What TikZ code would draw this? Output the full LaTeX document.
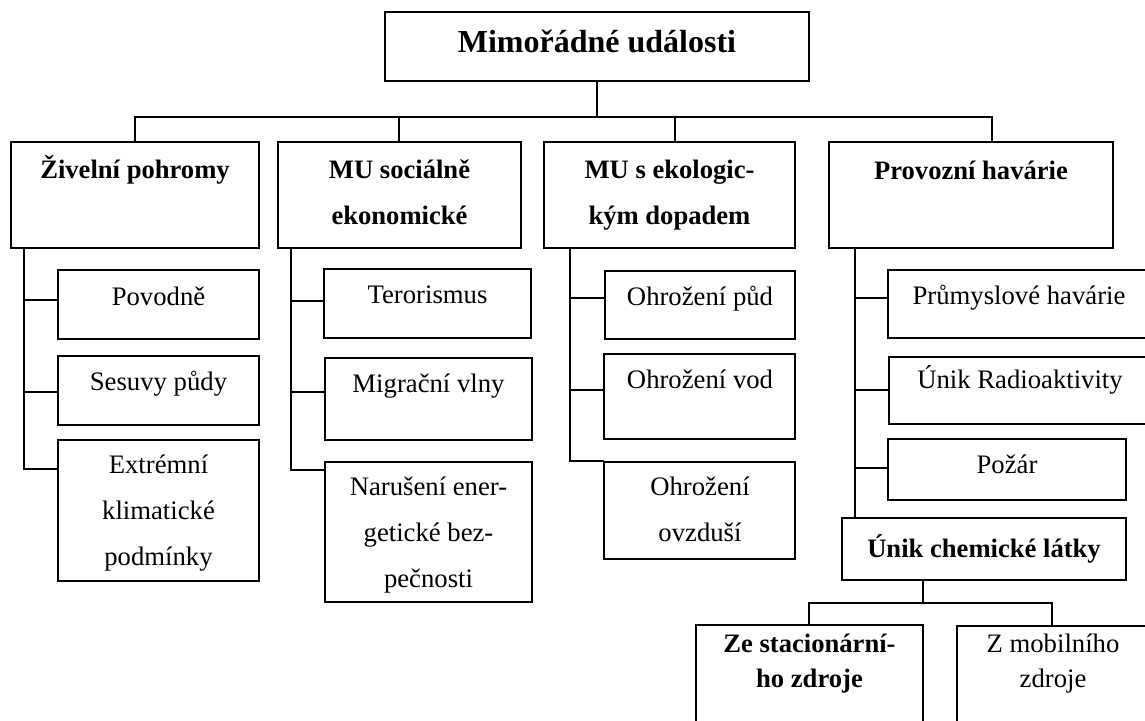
\documentclass[tikz,border=0pt]{standalone}
\usepackage{fontspec}
\setmainfont{Liberation Serif}
\usetikzlibrary{fit}
\newcommand\tx[5]{\node[#1] (#2) at (#3,#4-28) {\rule{0pt}{14pt}#5};}
\newcommand\bxnode[5]{\node[bx, fit={(#2,#3) (#4,#5)}] (#1) {};}
\begin{document}
\begin{tikzpicture}[x=0.5pt,y=-0.5pt,
  bx/.style={draw, line width=0.8pt, inner sep=0pt, outer sep=0pt},
  ln/.style={line width=0.8pt},
  tn/.style={font=\fontsize{13.35}{23}\selectfont, align=center, inner sep=0pt, anchor=north},
  tb/.style={tn, font=\bfseries\fontsize{13.3}{23}\selectfont},
  tt/.style={tn, font=\bfseries\fontsize{16}{23}\selectfont},
  tns/.style={tn, font=\fontsize{13.35}{17.5}\selectfont},
  tbs/.style={tn, font=\bfseries\fontsize{13.3}{17.5}\selectfont}]
\useasboundingbox (0,0) rectangle (1145,720);
% boxes
\bxnode{top}{385}{12}{809}{81}
\bxnode{l1a}{11}{142}{259}{248}
\bxnode{l1b}{278}{142}{521}{248}
\bxnode{l1c}{544}{142}{795}{248}
\bxnode{l1d}{829}{142}{1113}{248}
\bxnode{c1a}{58}{270}{259}{339}
\bxnode{c1b}{58}{356}{259}{425}
\bxnode{c1c}{58}{440}{259}{581}
\bxnode{c2a}{324}{269}{531}{338}
\bxnode{c2b}{325}{358}{532}{440}
\bxnode{c2c}{325}{462}{532}{602}
\bxnode{c3a}{605}{271}{795}{339}
\bxnode{c3b}{604}{354}{795}{439}
\bxnode{c3c}{604}{462}{795}{559}
\bxnode{c4a}{888}{270}{1152}{338}
\bxnode{c4b}{889}{357}{1152}{424}
\bxnode{c4c}{888}{439}{1126}{500}
\bxnode{chem}{842}{518}{1126}{580}
\bxnode{ze}{696}{625}{923}{730}
\bxnode{mob}{957}{626}{1152}{730}
% texts
\tx{tt}{ttop}{597}{52}{Mimořádné události}
\tx{tb}{tl1a}{135}{178}{Živelní pohromy}
\tx{tb}{tl1b}{399.5}{178}{MU sociálně\\ekonomické}
\tx{tb}{tl1c}{669.5}{178}{MU s ekologic-\\kým dopadem}
\tx{tb}{tl1d}{971}{179}{Provozní havárie}
\tx{tn}{tc1a}{158.5}{305}{Povodně}
\tx{tn}{tc1b}{158.5}{390}{Sesuvy půdy}
\tx{tn}{tc1c}{158.5}{473}{Extrémní\\klimatické\\podmínky}
\tx{tn}{tc2a}{427.5}{303}{Terorismus}
\tx{tn}{tc2b}{428.5}{392}{Migrační vlny}
\tx{tn}{tc2c}{428.5}{495}{Narušení ener-\\getické bez-\\pečnosti}
\tx{tn}{tc3a}{700}{305}{Ohrožení půd}
\tx{tn}{tc3b}{700}{388}{Ohrožení vod}
\tx{tn}{tc3c}{700}{495}{Ohrožení\\ovzduší}
\tx{tn}{tc4a}{1019}{304}{Průmyslové havárie}
\tx{tn}{tc4b}{1020}{388}{Únik Radioaktivity}
\tx{tn}{tc4c}{1007}{473}{Požár}
\tx{tb}{tchem}{984}{557}{Únik chemické látky}
\tx{tbs}{tze}{809.5}{652}{Ze stacionární-\\ho zdroje}
\tx{tns}{tmob}{1053}{652}{Z mobilního\\zdroje}
% main bus
\coordinate (busL) at (135,117);
\coordinate (busR) at (992,117);
\coordinate (d2) at (399,117);
\coordinate (d3) at (675,117);
\draw[ln] (top.south) -- (top.south |- busL);
\draw[ln] (busL |- l1a.north) -- (busL) -- (busR) -- (busR |- l1d.north);
\draw[ln] (d2) -- (d2 |- l1b.north);
\draw[ln] (d3) -- (d3 |- l1c.north);
% column 1
\coordinate (j1a) at (24,300);
\coordinate (j1b) at (24,392);
\coordinate (j1c) at (24,469);
\draw[ln] (l1a.south -| j1a) -- (j1c) -- (j1c -| c1c.west);
\draw[ln] (j1a) -- (j1a -| c1a.west);
\draw[ln] (j1b) -- (j1b -| c1b.west);
% column 2
\coordinate (j2a) at (291,301);
\coordinate (j2b) at (291,392);
\coordinate (j2c) at (291,470);
\draw[ln] (l1b.south -| j2a) -- (j2c) -- (j2c -| c2c.west);
\draw[ln] (j2a) -- (j2a -| c2a.west);
\draw[ln] (j2b) -- (j2b -| c2b.west);
% column 3
\coordinate (j3a) at (570,298);
\coordinate (j3b) at (570,390);
\coordinate (j3c) at (570,461);
\draw[ln] (l1c.south -| j3a) -- (j3c) -- (j3c -| c3c.west);
\draw[ln] (j3a) -- (j3a -| c3a.west);
\draw[ln] (j3b) -- (j3b -| c3b.west);
% column 4
\coordinate (j4a) at (855,298);
\coordinate (j4b) at (855,390);
\coordinate (j4c) at (855,468);
\draw[ln] (l1d.south -| j4a) -- (j4a |- chem.north);
\draw[ln] (j4a) -- (j4a -| c4a.west);
\draw[ln] (j4b) -- (j4b -| c4b.west);
\draw[ln] (j4c) -- (j4c -| c4c.west);
% bottom bus
\coordinate (jb) at (923,603);
\coordinate (bL) at (809,603);
\coordinate (bR) at (1052,603);
\draw[ln] (jb |- chem.south) -- (jb);
\draw[ln] (bL |- ze.north) -- (bL) -- (bR) -- (bR |- mob.north);
\end{tikzpicture}
\end{document}
